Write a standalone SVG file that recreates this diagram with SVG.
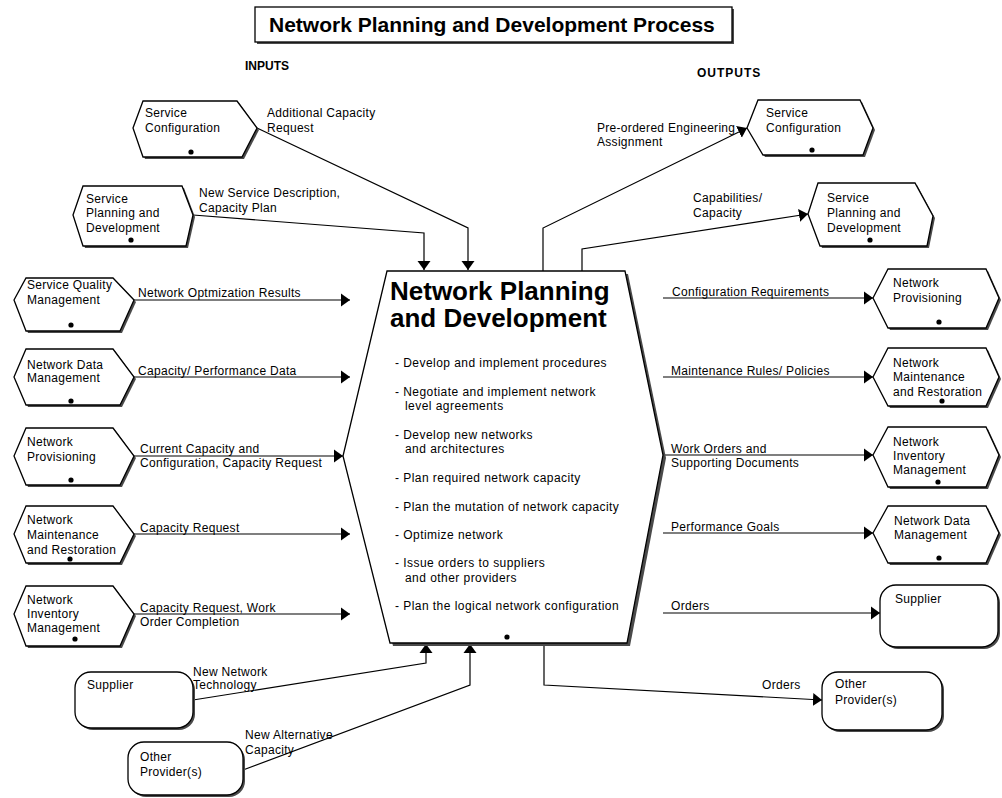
<svg xmlns="http://www.w3.org/2000/svg" width="1002" height="798" viewBox="0 0 1002 798">
  <defs>
    <style>
      .box { fill: #fff; stroke: #000; stroke-width: 1.3; }
      .shadow { fill: #4a4a4a; stroke: none; }
      .dot { fill: #000; }
      .t { font-family: "Liberation Sans", Arial, sans-serif; font-size: 12px; letter-spacing: 0.3px; fill: #000; }
      .b { letter-spacing: 0.45px; }
      .hd { font-family: "Liberation Sans", Arial, sans-serif; font-size: 12px; font-weight: bold; fill: #000; }
      .title { font-family: "Liberation Sans", Arial, sans-serif; font-size: 21px; font-weight: bold; fill: #000; }
      .big { font-family: "Liberation Sans", Arial, sans-serif; font-size: 26px; font-weight: bold; fill: #000; }
      .conn { fill: none; stroke: #000; stroke-width: 1.2; marker-end: url(#arr); }
    </style>
    <marker id="arr" markerUnits="userSpaceOnUse" markerWidth="10" markerHeight="14" refX="9" refY="7" orient="auto">
      <path d="M0,0.5 L9,7 L0,13.5 z" fill="#000"/>
    </marker>
  </defs>

  <rect width="1002" height="798" fill="#fff"/>

  <!-- Heading -->
  <g id="heading">
    <rect x="257" y="9" width="477" height="35" class="shadow"/>
    <rect x="255" y="7" width="477" height="35" class="box"/>
    <text x="269" y="32" class="title">Network Planning and Development Process</text>
    <text x="245" y="70" class="hd">INPUTS</text>
    <text x="697" y="77" class="hd" style="letter-spacing:1px">OUTPUTS</text>
  </g>

  <!-- Connectors -->
  <g id="connectors">
    <!-- inputs -->
    <polyline class="conn" points="257,128 468,228 468,270"/>
    <polyline class="conn" points="193,215 424,233 424,270"/>
    <line class="conn" x1="134" y1="300" x2="350" y2="300"/>
    <line class="conn" x1="134" y1="377" x2="350" y2="377"/>
    <line class="conn" x1="134" y1="456" x2="343" y2="456"/>
    <line class="conn" x1="134" y1="534" x2="350" y2="534"/>
    <line class="conn" x1="134" y1="614" x2="350" y2="614"/>
    <polyline class="conn" points="193,700 426,663 426,644"/>
    <polyline class="conn" points="243,770 470,685 470,644"/>
    <!-- outputs -->
    <polyline class="conn" points="543,271 543,228 747,128"/>
    <polyline class="conn" points="582,271 582,249 808,214"/>
    <line class="conn" x1="663" y1="298" x2="873" y2="298"/>
    <line class="conn" x1="663" y1="377" x2="873" y2="377"/>
    <line class="conn" x1="663" y1="455" x2="873" y2="455"/>
    <line class="conn" x1="663" y1="533" x2="873" y2="533"/>
    <line class="conn" x1="663" y1="613" x2="880" y2="613"/>
    <polyline class="conn" points="544,643 544,685 822,700"/>

    <!-- flow labels -->
    <text x="267" y="117" class="t">Additional Capacity</text>
    <text x="267" y="132" class="t">Request</text>
    <text x="199" y="197" class="t">New Service Description,</text>
    <text x="199" y="212" class="t">Capacity Plan</text>
    <text x="138" y="297" class="t">Network Optmization Results</text>
    <text x="138" y="375" class="t">Capacity/ Performance Data</text>
    <text x="140" y="453" class="t">Current Capacity and</text>
    <text x="140" y="467" class="t">Configuration, Capacity Request</text>
    <text x="140" y="532" class="t">Capacity Request</text>
    <text x="140" y="612" class="t">Capacity Request, Work</text>
    <text x="140" y="626" class="t">Order Completion</text>
    <text x="193" y="676" class="t">New Network</text>
    <text x="193" y="689" class="t">Technology</text>
    <text x="245" y="739" class="t">New Alternative</text>
    <text x="245" y="754" class="t">Capacity</text>

    <text x="597" y="132" class="t">Pre-ordered Engineering</text>
    <text x="597" y="146" class="t">Assignment</text>
    <text x="693" y="202" class="t">Capabilities/</text>
    <text x="693" y="217" class="t">Capacity</text>
    <text x="672" y="296" class="t">Configuration Requirements</text>
    <text x="671" y="375" class="t">Maintenance Rules/ Policies</text>
    <text x="671" y="453" class="t">Work Orders and</text>
    <text x="671" y="467" class="t">Supporting Documents</text>
    <text x="671" y="531" class="t">Performance Goals</text>
    <text x="671" y="610" class="t">Orders</text>
    <text x="762" y="689" class="t">Orders</text>
  </g>

  <!-- Central process -->
  <g id="process">
    <polygon class="shadow" transform="translate(3,3)" points="387,271 625,271 663,455 627,643 390,643 343,456"/>
    <polygon class="box" points="387,271 625,271 663,455 627,643 390,643 343,456"/>
    <circle class="dot" cx="507" cy="637" r="2.6"/>
    <text x="390" y="300" class="big">Network Planning</text>
    <text x="390" y="327" class="big">and Development</text>
    <text x="395" y="367" class="t b">- Develop and implement procedures</text>
    <text x="395" y="396" class="t b">- Negotiate and implement network</text>
    <text x="405" y="410" class="t b">level agreements</text>
    <text x="395" y="439" class="t b">- Develop new networks</text>
    <text x="405" y="453" class="t b">and architectures</text>
    <text x="395" y="482" class="t b">- Plan required network capacity</text>
    <text x="395" y="511" class="t b">- Plan the mutation of network capacity</text>
    <text x="395" y="539" class="t b">- Optimize network</text>
    <text x="395" y="567" class="t b">- Issue orders to suppliers</text>
    <text x="405" y="582" class="t b">and other providers</text>
    <text x="395" y="610" class="t b">- Plan the logical network configuration</text>
  </g>

  <!-- Input nodes -->
  <g id="in-service-configuration">
    <polygon class="shadow" transform="translate(2,2)" points="133,128 143,101 237,101 257,128 242,157 143,157"/>
    <polygon class="box" points="133,128 143,101 237,101 257,128 242,157 143,157"/>
    <circle class="dot" cx="191" cy="152" r="2.6"/>
    <text x="145" y="117" class="t">Service</text>
    <text x="145" y="132" class="t">Configuration</text>
  </g>
  <g id="in-service-planning">
    <polygon class="shadow" transform="translate(2,2)" points="73,215 83,186 182,186 193,215 186,246 83,246"/>
    <polygon class="box" points="73,215 83,186 182,186 193,215 186,246 83,246"/>
    <circle class="dot" cx="131" cy="240" r="2.6"/>
    <text x="86" y="203" class="t">Service</text>
    <text x="86" y="217" class="t">Planning and</text>
    <text x="86" y="232" class="t">Development</text>
  </g>
  <g id="in-service-quality">
    <polygon class="shadow" transform="translate(2,2)" points="14,300 26,278 113,278 134,300 120,331 26,331"/>
    <polygon class="box" points="14,300 26,278 113,278 134,300 120,331 26,331"/>
    <circle class="dot" cx="71" cy="325" r="2.6"/>
    <text x="27" y="289" class="t">Service Quality</text>
    <text x="27" y="304" class="t">Management</text>
  </g>
  <g id="in-network-data">
    <polygon class="shadow" transform="translate(2,2)" points="14,377 26,349 113,349 134,377 120,405 26,405"/>
    <polygon class="box" points="14,377 26,349 113,349 134,377 120,405 26,405"/>
    <circle class="dot" cx="71" cy="401" r="2.6"/>
    <text x="27" y="369" class="t">Network Data</text>
    <text x="27" y="382" class="t">Management</text>
  </g>
  <g id="in-network-provisioning">
    <polygon class="shadow" transform="translate(2,2)" points="14,456 26,428 113,428 134,456 120,485 26,485"/>
    <polygon class="box" points="14,456 26,428 113,428 134,456 120,485 26,485"/>
    <circle class="dot" cx="71" cy="480" r="2.6"/>
    <text x="27" y="446" class="t">Network</text>
    <text x="27" y="461" class="t">Provisioning</text>
  </g>
  <g id="in-network-maintenance">
    <polygon class="shadow" transform="translate(2,2)" points="14,534 26,506 113,506 134,534 120,563 26,563"/>
    <polygon class="box" points="14,534 26,506 113,506 134,534 120,563 26,563"/>
    <circle class="dot" cx="70" cy="559" r="2.6"/>
    <text x="27" y="524" class="t">Network</text>
    <text x="27" y="539" class="t">Maintenance</text>
    <text x="27" y="554" class="t">and Restoration</text>
  </g>
  <g id="in-network-inventory">
    <polygon class="shadow" transform="translate(2,2)" points="14,614 26,586 113,586 134,614 120,646 26,646"/>
    <polygon class="box" points="14,614 26,586 113,586 134,614 120,646 26,646"/>
    <circle class="dot" cx="75" cy="639" r="2.6"/>
    <text x="27" y="604" class="t">Network</text>
    <text x="27" y="618" class="t">Inventory</text>
    <text x="27" y="632" class="t">Management</text>
  </g>
  <g id="in-supplier">
    <rect class="shadow" x="77" y="674" width="118" height="56" rx="16"/>
    <rect class="box" x="75" y="672" width="118" height="56" rx="16"/>
    <text x="87" y="689" class="t">Supplier</text>
  </g>
  <g id="in-other-providers">
    <rect class="shadow" x="130" y="744" width="115" height="53" rx="16"/>
    <rect class="box" x="128" y="742" width="115" height="53" rx="16"/>
    <text x="140" y="761" class="t">Other</text>
    <text x="140" y="776" class="t">Provider(s)</text>
  </g>

  <!-- Output nodes -->
  <g id="out-service-configuration">
    <polygon class="shadow" transform="translate(2,2)" points="747,128 758,100 860,100 873,128 863,155 763,155"/>
    <polygon class="box" points="747,128 758,100 860,100 873,128 863,155 763,155"/>
    <circle class="dot" cx="812" cy="150" r="2.6"/>
    <text x="766" y="117" class="t">Service</text>
    <text x="766" y="132" class="t">Configuration</text>
  </g>
  <g id="out-service-planning">
    <polygon class="shadow" transform="translate(2,2)" points="808,214 818,183 915,183 933,216 927,246 820,246"/>
    <polygon class="box" points="808,214 818,183 915,183 933,216 927,246 820,246"/>
    <circle class="dot" cx="870" cy="240" r="2.6"/>
    <text x="827" y="202" class="t">Service</text>
    <text x="827" y="217" class="t">Planning and</text>
    <text x="827" y="232" class="t">Development</text>
  </g>
  <g id="out-network-provisioning">
    <polygon class="shadow" transform="translate(2,2)" points="873,298 888,269 986,269 999,298 986,328 888,328"/>
    <polygon class="box" points="873,298 888,269 986,269 999,298 986,328 888,328"/>
    <circle class="dot" cx="939" cy="322" r="2.6"/>
    <text x="893" y="287" class="t">Network</text>
    <text x="893" y="302" class="t">Provisioning</text>
  </g>
  <g id="out-network-maintenance">
    <polygon class="shadow" transform="translate(2,2)" points="873,377 888,348 986,348 999,377 986,406 888,406"/>
    <polygon class="box" points="873,377 888,348 986,348 999,377 986,406 888,406"/>
    <circle class="dot" cx="942" cy="401" r="2.6"/>
    <text x="893" y="367" class="t">Network</text>
    <text x="893" y="381" class="t">Maintenance</text>
    <text x="893" y="396" class="t">and Restoration</text>
  </g>
  <g id="out-network-inventory">
    <polygon class="shadow" transform="translate(2,2)" points="873,455 888,427 986,427 999,455 986,487 888,487"/>
    <polygon class="box" points="873,455 888,427 986,427 999,455 986,487 888,487"/>
    <circle class="dot" cx="938" cy="482" r="2.6"/>
    <text x="893" y="446" class="t">Network</text>
    <text x="893" y="460" class="t">Inventory</text>
    <text x="893" y="474" class="t">Management</text>
  </g>
  <g id="out-network-data">
    <polygon class="shadow" transform="translate(2,2)" points="873,533 888,506 986,506 999,533 986,563 888,563"/>
    <polygon class="box" points="873,533 888,506 986,506 999,533 986,563 888,563"/>
    <circle class="dot" cx="939" cy="558" r="2.6"/>
    <text x="894" y="525" class="t">Network Data</text>
    <text x="894" y="539" class="t">Management</text>
  </g>
  <g id="out-supplier">
    <rect class="shadow" x="882" y="587" width="118" height="62" rx="16"/>
    <rect class="box" x="880" y="585" width="118" height="62" rx="16"/>
    <text x="895" y="603" class="t">Supplier</text>
  </g>
  <g id="out-other-providers">
    <rect class="shadow" x="824" y="674" width="120" height="58" rx="16"/>
    <rect class="box" x="822" y="672" width="120" height="58" rx="16"/>
    <text x="835" y="688" class="t">Other</text>
    <text x="835" y="704" class="t">Provider(s)</text>
  </g>
</svg>
